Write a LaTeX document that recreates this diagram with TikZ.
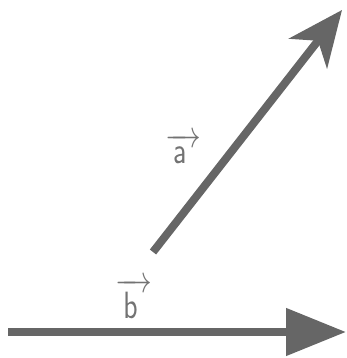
\RequirePackage{fix-cm}
\documentclass[tikz,border=0pt]{standalone}
\usetikzlibrary{arrows.meta}
\usepackage{graphicx}
\tikzset{
  vecline/.style={line width=8pt, draw=black!60},
  lbl/.style={text=black!55, inner sep=0pt, anchor=base west, font=\fontsize{38}{42}\selectfont}
}
\newcommand{\myvec}[1]{\scalebox{0.78}[1]{$\overrightarrow{\mkern5mu\mathsf{#1}\mkern9mu}$}}
\begin{document}
\begin{tikzpicture}[x=1pt,y=-1pt]
\useasboundingbox (0,0) rectangle (347,358);
\coordinate (a0) at (153,252);
\coordinate (a1) at (342,10);
\coordinate (b0) at (8,332);
\coordinate (b1) at (346,332);
\draw[vecline, -{Stealth[length=55pt,width=48pt,inset=16pt]}] (a0) -- (a1);
\draw[vecline, -{Triangle[length=60pt,width=46pt]}] (b0) -- (b1);
\node[lbl] (la) at (165,163) {\myvec{a}};
\node[lbl] (lb) at (115,318) {\myvec{b}};
\end{tikzpicture}
\end{document}
